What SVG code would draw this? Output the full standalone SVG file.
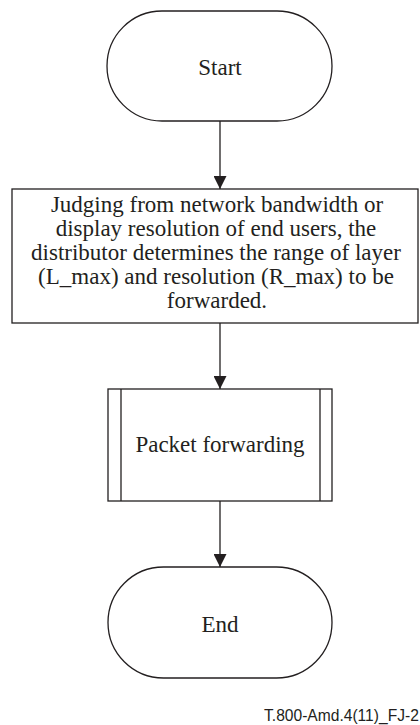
<svg xmlns="http://www.w3.org/2000/svg" width="420" height="725" viewBox="0 0 420 725">
<style>
.s{fill:#fff;stroke:#231f20;stroke-width:1.3}
.l{fill:none;stroke:#231f20;stroke-width:1.3}
.t{font-family:"Liberation Serif","Times New Roman",serif;font-size:23px;fill:#231f20;text-anchor:middle}
.f{font-family:"Liberation Sans",Arial,sans-serif;font-size:15.6px;fill:#231f20}
</style>
<defs>
<marker id="ah" markerUnits="userSpaceOnUse" markerWidth="14" markerHeight="13" refX="13" refY="6.5" orient="auto">
<path d="M0,0 L13,6.5 L0,13 Z" fill="#231f20"/>
</marker>
</defs>
<rect width="420" height="725" fill="#fff"/>
<g id="connectors">
<line class="l" x1="220" y1="121" x2="220" y2="189" marker-end="url(#ah)"/>
<line class="l" x1="220" y1="323" x2="220" y2="389" marker-end="url(#ah)"/>
<line class="l" x1="220" y1="501" x2="220" y2="567" marker-end="url(#ah)"/>
</g>
<g id="start">
<rect class="s" x="107" y="11" width="225" height="110" rx="55" ry="55"/>
<text class="t" x="220" y="75">Start</text>
</g>
<g id="judge">
<rect class="s" x="12" y="189" width="406" height="134"/>
<text class="t" x="217" y="211.5">Judging from network bandwidth or</text>
<text class="t" x="216" y="235.5">display resolution of end users, the</text>
<text class="t" x="216" y="259.5">distributor determines the range of layer</text>
<text class="t" x="216" y="283.5">(L_max) and resolution (R_max) to be</text>
<text class="t" x="217" y="307.5">forwarded.</text>
</g>
<g id="packet">
<rect class="s" x="108" y="389" width="224" height="112"/>
<line class="l" x1="121" y1="389" x2="121" y2="501"/>
<line class="l" x1="320" y1="389" x2="320" y2="501"/>
<text class="t" x="220" y="452">Packet forwarding</text>
</g>
<g id="end">
<rect class="s" x="108" y="567" width="224" height="111" rx="55.5" ry="55.5"/>
<text class="t" x="220" y="632">End</text>
</g>
<text class="f" x="264" y="721">T.800-Amd.4(11)_FJ-2</text>
</svg>
